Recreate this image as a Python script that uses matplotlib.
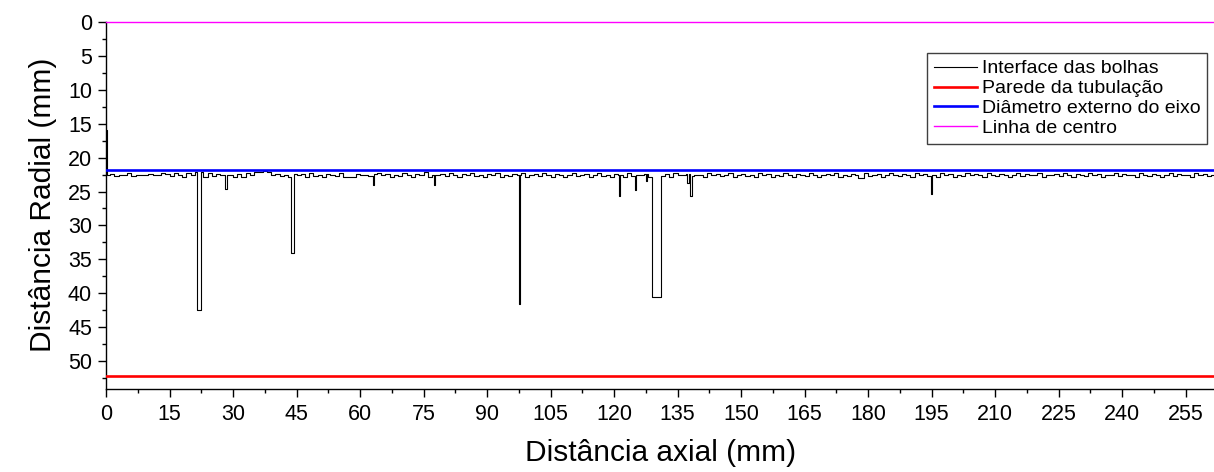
import matplotlib
matplotlib.use("Agg")
import matplotlib.pyplot as plt
from matplotlib.ticker import MultipleLocator
import numpy as np

plt.rcParams['font.family'] = ['Liberation Sans', 'DejaVu Sans']

# Reference lines (mm)
centre_line = 0.0
shaft_outer = 21.9
pipe_wall = 52.1

# Baseline of the bubble interface, one value per mm of axial distance (0..261)
base_y = [
    22.6, 22.4, 22.7, 22.5, 22.6, 22.3, 22.7, 22.6, 22.5, 22.6,
    22.4, 22.6, 22.6, 22.3, 22.4, 22.7, 22.3, 22.5, 22.8, 22.3,
    22.6, 22.2, 22.1, 22.9, 22.3, 22.7, 22.4, 22.6, 22.5, 22.5,
    22.8, 22.4, 22.9, 22.3, 22.6, 22.2, 22.1, 22.0, 22.1, 22.6,
    22.4, 22.7, 22.5, 22.9, 22.4, 22.6, 22.4, 22.8, 22.3, 22.7,
    22.5, 22.9, 22.4, 22.6, 22.7, 22.3, 22.8, 22.9, 22.9, 22.4,
    22.6, 22.5, 22.7, 22.4, 22.3, 22.6, 22.4, 22.8, 22.5, 22.7,
    22.3, 22.6, 22.9, 22.4, 22.6, 22.2, 22.8, 22.5, 22.5, 22.4,
    22.7, 22.3, 22.6, 22.8, 22.4, 22.6, 22.3, 22.7, 22.5, 22.9,
    22.4, 22.6, 22.3, 22.8, 22.5, 22.7, 22.4, 22.6, 22.3, 22.8,
    22.5, 22.4, 22.7, 22.3, 22.6, 22.8, 22.4, 22.5, 22.9, 22.6,
    22.3, 22.7, 22.5, 22.4, 22.8, 22.6, 22.3, 22.7, 22.5, 22.9,
    22.4, 22.6, 22.8, 22.3, 22.7, 22.5, 22.6, 22.4, 22.8, 22.5,
    22.6, 22.7, 22.4, 22.8, 22.3, 22.6, 22.5, 22.4, 22.7, 22.6,
    22.5, 22.8, 22.3, 22.6, 22.4, 22.7, 22.5, 22.3, 22.8, 22.6,
    22.4, 22.7, 22.5, 22.9, 22.3, 22.6, 22.4, 22.8, 22.5, 22.7,
    22.3, 22.6, 22.8, 22.4, 22.5, 22.7, 22.3, 22.6, 22.9, 22.5,
    22.4, 22.6, 22.3, 22.8, 22.5, 22.7, 22.4, 22.6, 22.5, 22.3,
    22.7, 22.6, 22.4, 22.8, 22.5, 22.3, 22.6, 22.7, 22.4, 22.5,
    22.8, 22.3, 22.6, 22.4, 22.7, 22.5, 22.9, 22.3, 22.6, 22.4,
    22.8, 22.5, 22.7, 22.3, 22.6, 22.4, 22.5, 22.8, 22.3, 22.6,
    22.7, 22.4, 22.5, 22.8, 22.6, 22.3, 22.7, 22.4, 22.6, 22.5,
    22.3, 22.8, 22.5, 22.6, 22.4, 22.7, 22.3, 22.6, 22.8, 22.4,
    22.5, 22.7, 22.3, 22.6, 22.4, 22.8, 22.5, 22.6, 22.3, 22.7,
    22.4, 22.6, 22.5, 22.8, 22.3, 22.6, 22.7, 22.4, 22.5, 22.8,
    22.6, 22.3, 22.7, 22.4, 22.6, 22.5, 22.8, 22.3, 22.6, 22.4,
    22.7, 22.5,
]

# Bubble dips: start (mm), end (mm), radial depth (mm)
dip_start = [0.0, 21.5, 28.2, 43.6, 63.0, 77.4, 97.6, 121.1, 125.0, 127.6, 129.0, 137.3, 138.0, 177.6, 194.8]
dip_end   = [0.25, 22.4, 28.5, 44.4, 63.2, 77.7, 97.9, 121.3, 125.2, 127.8, 131.2, 137.6, 138.3, 179.1, 195.0]
dip_depth = [16.0, 42.5, 24.7, 34.1, 24.0, 24.0, 41.5, 25.7, 24.8, 23.5, 40.5, 23.7, 25.7, 23.0, 25.3]

x_max = 262.0

# Build step series from baseline + dips
events = []
for i, yv in enumerate(base_y):
    if any(s <= i < e for s, e in zip(dip_start, dip_end)):
        continue
    events.append((float(i), yv))
for s, e, d in zip(dip_start, dip_end, dip_depth):
    events.append((s, d))
    events.append((e, base_y[min(int(e), len(base_y) - 1)]))
events.sort(key=lambda t: t[0])
ix = np.array([t[0] for t in events] + [len(base_y)])
iy = np.array([t[1] for t in events] + [base_y[-1]])

fig = plt.figure(figsize=(12.14, 4.72), dpi=100)
ax = fig.add_axes([106 / 1214, 1 - 388.5 / 472, 1 - 106 / 1214 + 0.001, (388.5 - 21.7) / 472])

ax.plot(ix, iy, drawstyle='steps-post', color='black', lw=0.8, label='Interface das bolhas', zorder=3)
ax.axhline(pipe_wall, color='#ff0000', lw=1.9, label='Parede da tubulação', zorder=4)
ax.axhline(shaft_outer, color='#0000ff', lw=1.9, label='Diâmetro externo do eixo', zorder=4)
ax.axhline(centre_line, color='#ff00ff', lw=1.0, label='Linha de centro', zorder=4, clip_on=False)

ax.set_xlim(0, x_max)
ax.set_ylim(54, 0)
ax.xaxis.set_major_locator(MultipleLocator(15))
ax.xaxis.set_minor_locator(MultipleLocator(7.5))
ax.yaxis.set_major_locator(MultipleLocator(5))
ax.yaxis.set_minor_locator(MultipleLocator(2.5))
ax.tick_params(which='major', direction='out', length=6, width=1.0, labelsize=15.5)
ax.tick_params(axis='x', which='major', pad=5)
ax.tick_params(axis='y', which='major', pad=4)
ax.tick_params(which='minor', direction='out', length=3, width=1.0)

for sp in ['top', 'right']:
    ax.spines[sp].set_visible(False)
for sp in ['left', 'bottom']:
    ax.spines[sp].set_linewidth(1.0)

ax.set_xlabel('Distância axial (mm)', fontsize=21.5, labelpad=10)
ax.set_ylabel('Distância Radial (mm)', fontsize=21.5, labelpad=8)

leg = ax.legend(loc='upper right', bbox_to_anchor=(1207 / 1214, 1 - 53 / 472), bbox_transform=fig.transFigure,
                fontsize=14, frameon=True, fancybox=False, framealpha=1, edgecolor='#404040',
                handlelength=2.2, handletextpad=0.25, labelspacing=0.12, borderpad=0.35, borderaxespad=0)
leg.get_frame().set_linewidth(1.0)

fig.savefig('out.png', dpi=100)
